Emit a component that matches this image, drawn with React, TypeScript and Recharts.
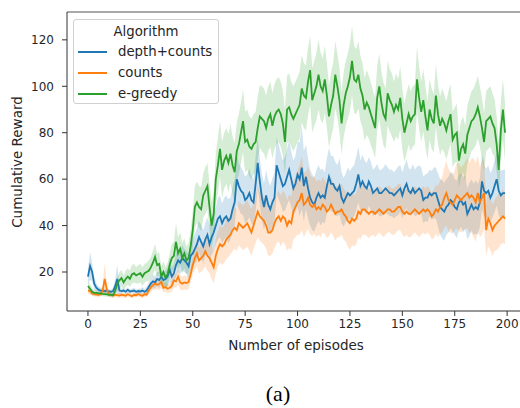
import React from 'react';
import { ComposedChart, Line, Area, XAxis, YAxis, ReferenceLine } from 'recharts';

// Episode index (categories)
const episodes: number[] = Array.from({ length: 200 }, (_, i) => i);

const xTicks = [0, 25, 50, 75, 100, 125, 150, 175, 200];
const yTicks = [20, 40, 60, 80, 100, 120];

// depth+counts mean
const depthCounts = [
  18, 22.6, 20, 15, 13.2, 12.4, 12, 12, 11.8, 12,
  11.6, 11.5, 11.8, 14, 17, 12, 11.8, 12, 11.5, 12.3,
  11.6, 11.8, 12, 11.5, 11.8, 11.6, 12, 11.5, 12, 13.5,
  15, 16, 15.5, 17, 16.5, 18, 16.5, 17, 18, 21,
  18, 19.5, 23, 25, 24, 26, 25, 24, 22.5, 27,
  28, 30, 32, 35, 33, 31, 34, 36, 32, 35,
  37, 40, 43, 44, 41, 43, 44, 42, 43, 47,
  50, 60, 57, 55, 54, 51, 52, 54, 51, 50,
  58, 67, 59, 52, 48, 53, 49, 47, 50, 52,
  66, 63, 60, 57, 58, 61, 64, 60, 56, 58,
  62, 60, 65, 57, 61, 56, 52, 50, 49, 52,
  54, 52, 53, 52, 57, 61, 58, 58, 56, 55,
  57, 52, 50, 52, 54, 53, 54, 55, 58, 62,
  57, 59, 57, 56, 59, 57, 54, 55, 56, 54,
  54, 55, 56, 55, 54, 54, 53, 54, 55, 56,
  53, 56, 58, 55, 54, 56, 54, 55, 56, 55,
  51, 52, 52, 54, 53, 54, 54, 51, 48, 47,
  46, 48, 49, 51, 50, 48, 47, 50, 51, 49,
  50, 45, 47, 49, 47, 48, 47, 50, 59, 55,
  54, 55, 52, 54, 57, 60, 55, 53, 54, 54,
];

// counts mean
const counts = [
  12, 11.8, 10.8, 10.5, 10.3, 10.2, 10.4, 12, 17, 12.5,
  10.2, 10, 9.8, 10.2, 10, 9.8, 10.2, 10, 9.8, 10.4,
  10, 9.6, 10.2, 10, 10.5, 10, 9.8, 10.4, 10.2, 12,
  13.5, 14.3, 15, 14.5, 14.8, 15.7, 13.2, 13.5, 12.8, 13.2,
  14, 16.4, 16, 18, 15.5, 15, 15.5, 15.2, 15.7, 19,
  23, 26, 28, 25, 26, 27, 29, 27, 26, 24,
  22, 27, 30, 32, 31, 32, 34, 35, 36, 38,
  39, 38, 41, 40, 39, 40, 41, 39, 37, 40,
  43, 46, 44, 43, 42, 40, 37, 37, 38, 41,
  43, 44, 42, 44, 43, 40, 42, 41, 46, 48,
  50, 51, 54, 49, 50, 52, 49, 48, 49, 47,
  48, 47, 49, 48, 46, 47, 49, 47, 45, 46,
  46, 47, 45, 44, 42, 41, 43, 42, 43, 46,
  45, 47, 47, 46, 45, 46, 46, 45, 46, 47,
  46, 45, 46, 47, 47, 46, 46, 47, 48, 48,
  46, 45, 46, 45, 45, 46, 47, 46, 45, 46,
  47, 46, 47, 46, 44, 45, 47, 46, 48, 49,
  52, 54, 51, 50, 49, 51, 53, 52, 51, 52,
  53, 54, 52, 53, 52, 50, 54, 50, 52, 54,
  38, 43, 41, 38, 40, 41, 42, 43, 44, 43,
];

// e-greedy mean
const eGreedy = [
  14, 12.8, 11.5, 11, 11, 10.8, 10.8, 10.6, 10.5, 10.4,
  10.2, 10.2, 10, 12, 15, 16.4, 17.4, 15.5, 17, 18,
  17, 19, 19.5, 18.5, 19, 19.5, 18, 19.5, 20, 20.5,
  22, 24, 26.5, 23, 23.5, 18, 20, 17.5, 19, 23,
  26, 27, 33, 28, 30, 26, 28, 25, 26, 31,
  38, 48, 50, 48, 47, 53, 55, 57, 48, 40,
  45, 60, 66, 73, 64, 68, 70, 67, 71, 66,
  63, 72, 75, 80, 85, 76, 77, 74, 73, 75,
  76, 82, 87, 86, 85, 82, 86, 88, 83, 87,
  89, 90, 88, 84, 76, 90, 91, 88, 86, 88,
  90, 92, 99, 96, 95, 102, 107, 94, 97, 100,
  105, 100, 98, 103, 96, 87, 92, 96, 105, 100,
  94, 84, 92, 97, 100, 104, 111, 103, 102, 105,
  99, 96, 90, 93, 91, 88, 85, 82, 95, 100,
  93, 88, 86, 97, 94, 92, 89, 92, 90, 95,
  86, 80, 84, 88, 85, 87, 88, 103, 95, 89,
  94, 87, 81, 90, 86, 84, 96, 88, 83, 86,
  84, 81, 85, 88, 77, 79, 80, 68, 73, 75,
  71, 79, 82, 85, 86, 88, 91, 87, 82, 76,
  85, 86, 87, 84, 82, 75, 64, 81, 90, 80,
];

// confidence half-widths
const depthCountsCi = [
  3, 6, 4, 2.5, 2, 1.5, 1.2, 1, 1, 1,
  1, 1, 1.2, 3, 6, 2, 1, 1, 1, 1.2,
  1, 1, 1.2, 1, 1, 1.2, 1.5, 1.2, 1.5, 2,
  2.5, 3, 2.5, 3, 3.5, 3, 3, 3.5, 4, 5,
  4, 4, 5, 5, 5, 5.5, 5, 5, 5, 6,
  6, 6.5, 7, 7, 7.5, 7, 7, 7.5, 8, 7.5,
  8, 8, 9, 9, 8.5, 9, 9, 9.5, 9, 9.5,
  10, 11, 10, 10, 9.5, 10, 10, 10.5, 10, 10,
  12, 11, 10, 10, 10, 11, 10.5, 10, 10.5, 11,
  12, 12, 11, 11, 11.5, 12, 13, 12, 12, 12,
  14, 16, 18, 15, 14, 13, 12, 12, 11.5, 12,
  12, 12, 11.5, 11, 12, 12.5, 12, 12, 11.5, 11,
  12, 11, 10.5, 10.5, 11, 10.5, 11, 11, 11.5, 12,
  11, 11.5, 11, 11, 10.5, 10.5, 10, 10, 10.5, 10,
  10, 10, 10.5, 10, 10, 10, 10, 10, 10.5, 10,
  10, 10, 10.5, 10, 10, 10.5, 10, 10.5, 10, 10,
  10, 10, 10.5, 10, 10.5, 11, 11, 11.5, 12, 12.5,
  12.5, 12, 12, 12, 12.5, 12, 12.5, 12, 11.5, 12,
  11.5, 11, 11.5, 11, 11, 11.5, 11, 10.5, 12, 11,
  10.5, 11, 10.5, 10.5, 11, 11.5, 10.5, 10.5, 10, 10,
];

const countsCi = [
  1.5, 1.5, 1, 1, 1, 1, 1, 2, 7, 2,
  1, 1, 1, 1, 1, 1, 1, 1, 1, 1,
  1, 1, 1, 1, 1, 1, 1, 1, 1, 1.5,
  2, 2, 2.5, 2, 2.5, 2.5, 2, 2, 2, 2,
  2.5, 3, 3, 3.5, 3, 3, 3, 3, 3, 3.5,
  4, 5, 5.5, 5.5, 6, 6, 6.5, 6.5, 6.5, 7,
  7, 7.5, 7.5, 8, 8, 8, 8.5, 8.5, 8.5, 9,
  9, 9, 9.5, 9.5, 9.5, 10, 10, 10, 10, 10,
  10.5, 11, 10.5, 10.5, 10.5, 10, 10, 10, 10, 10.5,
  10.5, 11, 11, 11, 11, 11, 11.5, 11.5, 12, 13,
  14, 15, 16, 14, 13, 13.5, 13, 12.5, 12.5, 12,
  12, 12, 12, 11.5, 11.5, 11.5, 12, 11.5, 11.5, 11,
  11, 11, 11, 11, 11, 11.5, 11.5, 11, 11, 11,
  11, 11, 11, 10.5, 10.5, 10.5, 10, 10, 10, 10,
  10, 10, 10, 10, 10, 10, 10, 10, 10, 10,
  10, 10, 10, 10, 10, 10, 10, 10, 10, 10,
  10, 10, 10, 10, 10, 10.5, 10.5, 11, 11.5, 12,
  13, 14, 13.5, 13, 12.5, 13, 14, 14.5, 14, 14,
  14.5, 15, 15, 16, 17, 17, 16, 15, 16, 15,
  11, 12, 11.5, 11, 11, 11.5, 11.5, 11, 11.5, 11,
];

const eGreedyCi = [
  2, 1.8, 1.5, 1.2, 1, 1, 1, 1, 1, 1,
  1, 1, 1, 2, 3, 3.5, 3.5, 3, 3.5, 3.5,
  3.5, 4, 4, 3.5, 4, 4, 4, 4, 4, 4.5,
  4.5, 5, 5.5, 5, 5, 4.5, 4.5, 4.5, 5, 5,
  6, 6, 8, 7, 7, 6.5, 6.5, 6, 6.5, 7,
  8, 9, 9, 9, 9.5, 9.5, 10, 10, 10, 10,
  10, 11, 12, 12, 12, 12, 12, 12.5, 12.5, 12.5,
  12.5, 12.5, 13, 13, 13.5, 13, 13, 13, 13, 13,
  13, 13.5, 13.5, 14, 14, 14, 14, 14, 14, 14,
  14, 14, 14, 14, 14, 14.5, 14.5, 14, 14, 14,
  14, 14.5, 14.5, 14, 14, 14.5, 15, 14, 14, 14.5,
  15, 14.5, 14, 14.5, 14, 13.5, 14, 14, 14.5, 14,
  14, 13.5, 14, 14, 14, 14.5, 15, 14.5, 14, 14.5,
  14, 14, 13.5, 14, 13.5, 13.5, 13, 13, 14, 14,
  13.5, 13.5, 13, 14, 13.5, 13.5, 13, 13.5, 13, 13.5,
  13, 12.5, 13, 13, 13, 13, 13, 14, 13.5, 13,
  13.5, 13, 12.5, 13, 13, 12.5, 13.5, 13, 12.5, 13,
  12.5, 12.5, 13, 13, 12, 12, 12.5, 11.5, 12, 12,
  12, 12.5, 13, 13, 13, 13.5, 13.5, 13, 13, 12.5,
  13, 13, 13, 13, 12.5, 12, 11.5, 12.5, 13, 12.5,
];

const BLUE = '#1f77b4';
const ORANGE = '#ff7f0e';
const GREEN = '#2ca02c';

const seriesNames = ['depth+counts', 'counts', 'e-greedy'];
const seriesColors = [BLUE, ORANGE, GREEN];

const data = episodes.map((ep, i) => ({
  ep,
  b: depthCounts[i],
  o: counts[i],
  g: eGreedy[i],
  bBand: [depthCounts[i] - depthCountsCi[i], depthCounts[i] + depthCountsCi[i]],
  oBand: [counts[i] - countsCi[i], counts[i] + countsCi[i]],
  gBand: [eGreedy[i] - eGreedyCi[i], eGreedy[i] + eGreedyCi[i]],
}));

const FONT = '"DejaVu Sans", sans-serif';
const TEXT = '#262626';
const Y_MIN = 3.2;
const Y_MAX = 132;

export default function App() {
  return (
    <div
      style={{
        position: 'absolute',
        left: 0,
        top: 0,
        width: 520,
        height: 408,
        overflow: 'hidden',
        background: '#fff',
        fontFamily: FONT,
      }}
    >
      <ComposedChart
        width={540}
        height={408}
        data={data}
        margin={{ top: 12, right: 14, bottom: 0, left: 0 }}
      >
        <XAxis
          type="number"
          dataKey="ep"
          domain={[-10, 209]}
          ticks={xTicks}
          allowDataOverflow
          height={97}
          tickSize={5}
          tickMargin={3}
          stroke="#333"
          tick={{ fill: TEXT, fontSize: 12, fontFamily: FONT }}
        />
        <YAxis
          type="number"
          domain={[Y_MIN, Y_MAX]}
          ticks={yTicks}
          allowDataOverflow
          width={67}
          tickSize={5}
          tickMargin={8}
          stroke="#333"
          tick={{ fill: TEXT, fontSize: 12, fontFamily: FONT }}
        />
        <ReferenceLine y={Y_MAX} stroke="#555" strokeWidth={1.2} />
        <Area dataKey="bBand" stroke="none" fill={BLUE} fillOpacity={0.2} isAnimationActive={false} />
        <Area dataKey="oBand" stroke="none" fill={ORANGE} fillOpacity={0.2} isAnimationActive={false} />
        <Area dataKey="gBand" stroke="none" fill={GREEN} fillOpacity={0.2} isAnimationActive={false} />
        <Line dataKey="b" stroke={BLUE} strokeWidth={1.8} dot={false} isAnimationActive={false} />
        <Line dataKey="o" stroke={ORANGE} strokeWidth={1.8} dot={false} isAnimationActive={false} />
        <Line dataKey="g" stroke={GREEN} strokeWidth={1.8} dot={false} isAnimationActive={false} />
      </ComposedChart>

      {/* Legend */}
      <div
        style={{
          position: 'absolute',
          left: 73,
          top: 19,
          width: 146,
          height: 85,
          border: '1px solid #d0d0d0',
          borderRadius: 3,
          background: 'rgba(255,255,255,0.85)',
          boxSizing: 'border-box',
          color: TEXT,
          fontSize: 13.3,
        }}
      >
        <div style={{ position: 'absolute', left: 0, width: '100%', top: 4, textAlign: 'center', lineHeight: '16px' }}>
          Algorithm
        </div>
        {seriesNames.map((name, i) => (
          <div key={name} style={{ position: 'absolute', left: 4, top: 24 + i * 21, height: 16, display: 'flex', alignItems: 'center' }}>
            <div style={{ width: 29, height: 2, background: seriesColors[i] }} />
            <div style={{ marginLeft: 11, lineHeight: '16px', whiteSpace: 'nowrap' }}>{name}</div>
          </div>
        ))}
      </div>

      {/* Axis titles */}
      <div
        style={{
          position: 'absolute',
          left: 296,
          top: 337,
          transform: 'translateX(-50%)',
          fontSize: 13.5,
          lineHeight: '16px',
          color: TEXT,
          whiteSpace: 'nowrap',
        }}
      >
        Number of episodes
      </div>
      <div
        style={{
          position: 'absolute',
          left: 17,
          top: 162,
          transform: 'translate(-50%, -50%) rotate(-90deg)',
          fontSize: 13.5,
          lineHeight: '16px',
          color: TEXT,
          whiteSpace: 'nowrap',
        }}
      >
        Cumulative Reward
      </div>

      {/* Caption */}
      <div
        style={{
          position: 'absolute',
          left: 278,
          top: 381,
          transform: 'translateX(-50%)',
          fontFamily: '"Liberation Serif", serif',
          fontSize: 22,
          lineHeight: '26px',
          color: '#000',
          whiteSpace: 'nowrap',
        }}
      >
        (a)
      </div>
    </div>
  );
}
